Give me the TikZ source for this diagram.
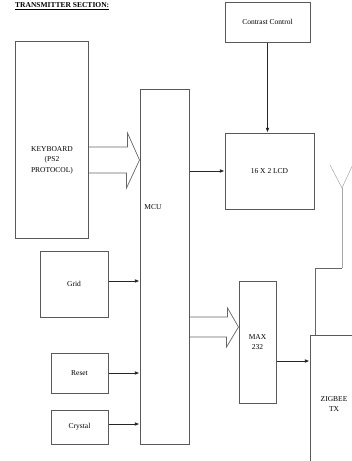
\documentclass[tikz,border=0pt]{standalone}
\usepackage{fontspec}
\setmainfont{Liberation Serif}
\usetikzlibrary{positioning,arrows.meta}

\begin{document}
\begin{tikzpicture}[
    x=1pt, y=-1pt,
    box/.style={draw=black!65, line width=1pt, align=center, inner sep=0pt, font=\fontsize{7.5}{9}\selectfont},
    lbl/.style={align=center, inner sep=0pt, font=\fontsize{7.5}{10.5}\selectfont},
    arrow/.style={-{Latex[length=1.6mm,width=1.3mm]}, line width=0.8pt, draw=black!85},
    hollow/.style={draw=black!60, line width=0.7pt},
    aerial/.style={draw=black!35, line width=0.5pt}
  ]
    \useasboundingbox (0,0) rectangle (352,461);

    \node[anchor=base west, inner sep=0pt, font=\bfseries\fontsize{7.5}{9}\selectfont] (title) at (15,7.5) {\underline{TRANSMITTER SECTION:}};

    \node[box, minimum width=73, minimum height=197] (kbd) at (51.5,139.5) {};
    \node[lbl] (kbdtxt) at (52,160) {KEYBOARD\\(PS2\\PROTOCOL)};
    \node[box, minimum width=49, minimum height=355] (mcu) at (164.5,266.5) {};
    \node[lbl] (mcutxt) at (153,207) {MCU};
    \node[box, minimum width=85, minimum height=40] (contrast) at (267.5,22) {Contrast Control};
    \node[box, minimum width=89, minimum height=76] (lcd) at (269.5,171) {16 X 2 LCD};
    \node[box, minimum width=68, minimum height=66] (grid) at (74,284) {Grid};
    \node[box, minimum width=57, minimum height=40] (reset) at (79.5,373) {Reset};
    \node[box, minimum width=57, minimum height=34] (crystal) at (79.5,427) {Crystal};
    \node[box, minimum width=37, minimum height=122, font=\fontsize{7.5}{10.5}\selectfont] (max) at (257.5,342) {MAX\\232};
    \node[box, minimum width=60, minimum height=150] (zig) at (340,410) {};
    \node[lbl] (zigtxt) at (334,404) {ZIGBEE\\TX};

    % wide data paths
    \draw[hollow] (kbd.east |- 0,147) -- ++(39,0) -- ++(0,-14) -- (mcu.west |- 0,160)
        -- ++(-13,28) -- ++(0,-15) -- (kbd.east |- 0,173);
    \draw[hollow] (mcu.east |- 0,317) -- ++(38,0) -- ++(0,-9) -- (max.west |- 0,327)
        -- ++(-12,20) -- ++(0,-10) -- (mcu.east |- 0,337);

    % signal lines
    \draw[arrow] (contrast.south) -- (contrast.south |- lcd.north);
    \draw[arrow] (mcu.east |- lcd.west) -- (lcd.west);
    \draw[arrow] ([yshift=3pt]grid.east) -- ([yshift=3pt]grid.east -| mcu.west);
    \draw[arrow] (reset.east) -- (reset.east -| mcu.west);
    \draw[arrow] ([yshift=3pt]crystal.east) -- ([yshift=3pt]crystal.east -| mcu.west);
    \draw[arrow] ([yshift=-19pt]max.east) -- ([yshift=-19pt]max.east -| zig.west);

    % antenna
    \coordinate (ant) at (342,188);
    \draw[aerial] (330,165) -- (ant) -- (354,162);
    \draw[aerial] (ant) -- (ant |- 0,268);
    \draw[hollow] (ant |- 0,268) -- (315,268) -- (315 ,0 |- zig.north);
\end{tikzpicture}
\end{document}
